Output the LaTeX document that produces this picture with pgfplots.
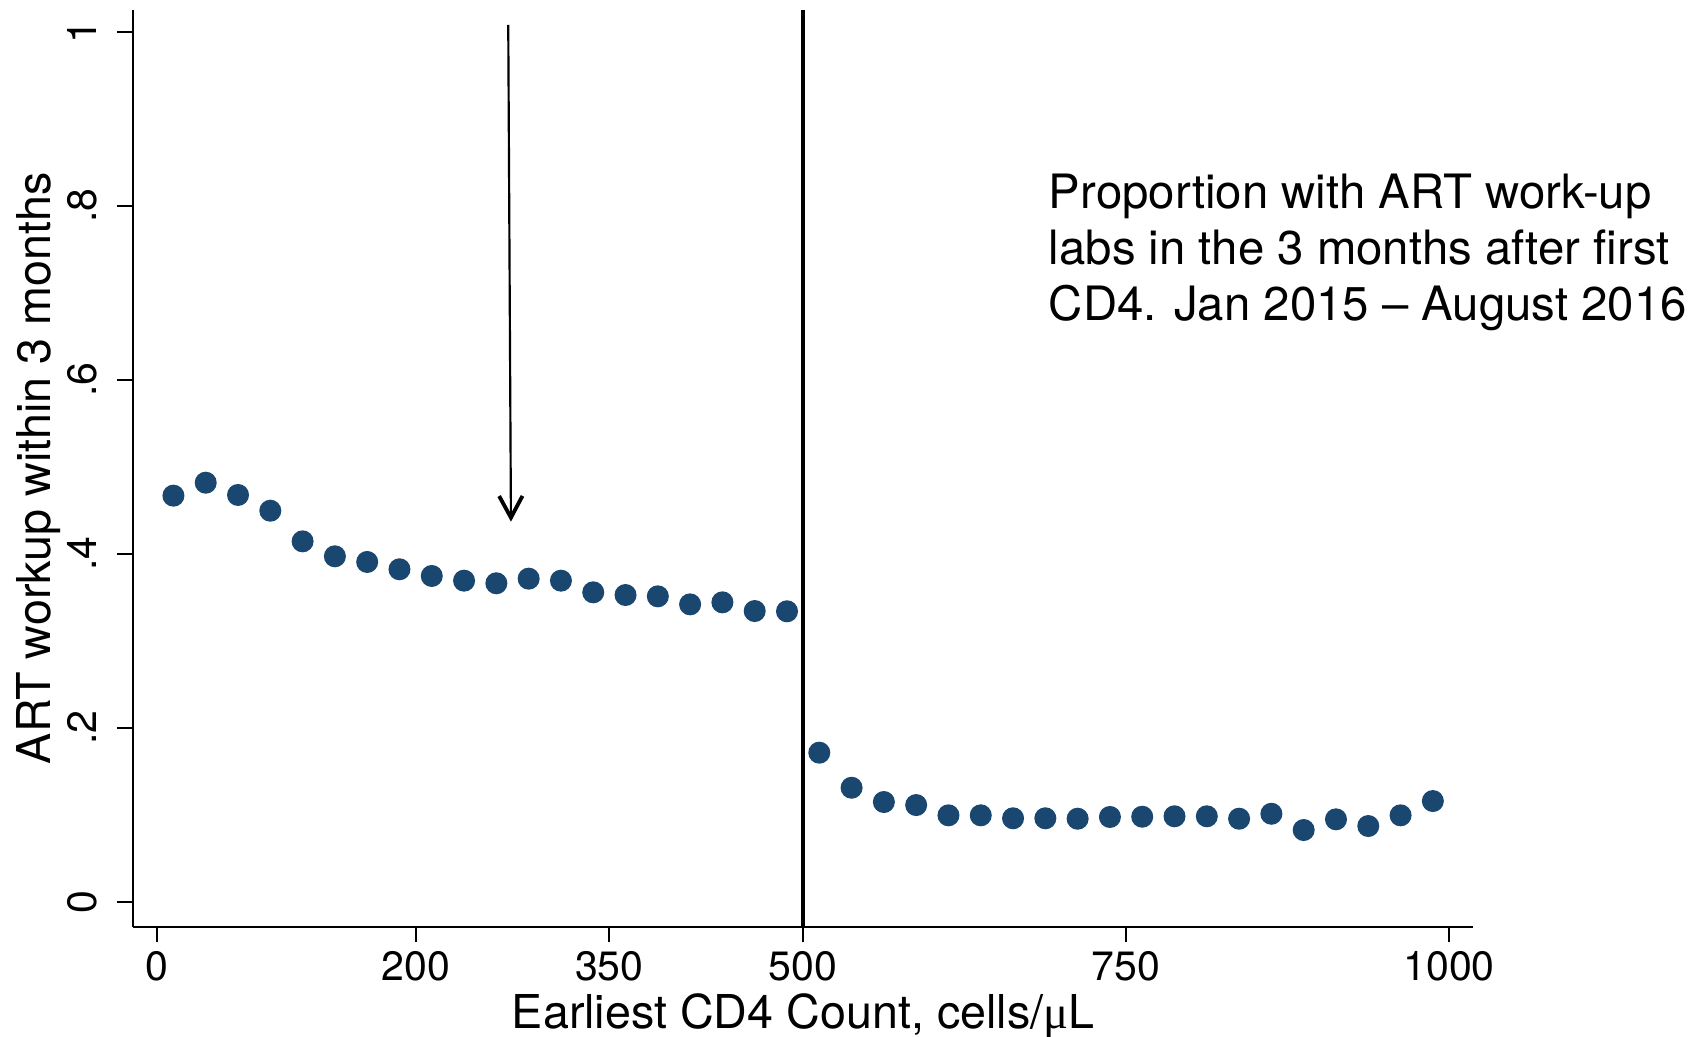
\documentclass[border=0pt]{standalone}
\usepackage{fontspec}
\setmainfont{TeX Gyre Heros}
\newfontfamily\serifmu{Liberation Serif}
\usepackage{pgfplots}
\pgfplotsset{compat=1.18}
\usetikzlibrary{arrows.meta}
\definecolor{statanavy}{RGB}{26,71,111}

\pgfplotstableread{
x y
12.5 0.4667
37.5 0.4816
62.5 0.4675
87.5 0.4494
112.5 0.4142
137.5 0.3970
162.5 0.3905
187.5 0.3821
212.5 0.3744
237.5 0.3690
262.5 0.3660
287.5 0.3713
312.5 0.3690
337.5 0.3556
362.5 0.3525
387.5 0.3510
412.5 0.3418
437.5 0.3441
462.5 0.3341
487.5 0.3338
512.5 0.1713
537.5 0.1310
562.5 0.1146
587.5 0.1111
612.5 0.0993
637.5 0.0993
662.5 0.0959
687.5 0.0959
712.5 0.0954
737.5 0.0974
762.5 0.0977
787.5 0.0982
812.5 0.0982
837.5 0.0954
862.5 0.1011
887.5 0.0824
912.5 0.0947
937.5 0.0870
962.5 0.0993
987.5 0.1157
}\datatable

\begin{document}
\begin{tikzpicture}
\begin{axis}[
  at={(0,0)}, anchor=south west,
  scale only axis,
  width=402.09pt, height=275.01pt,
  xmin=-18.8, xmax=1018.8,
  ymin=-0.0287, ymax=1.0249,
  axis x line=bottom, axis y line=left,
  axis line style={line width=0.6pt, -},
  xtick={0,200,350,500,750,1000},
  ytick={0,0.2,0.4,0.6,0.8,1},
  yticklabels={0,.2,.4,.6,.8,1},
  tick align=outside,
  major tick length=4.7pt,
  tick style={line width=0.6pt, black},
  /pgf/number format/assume math mode=true,
  /pgf/number format/1000 sep={},
  scaled ticks=false,
  xticklabel style={font=\fontsize{12.3}{14}\selectfont, anchor=base},
  yticklabel style={font=\fontsize{12.3}{14}\selectfont, rotate=90, anchor=base},
  xticklabel shift=11.3pt,
  yticklabel shift=6.2pt,
  xlabel={Earliest CD4 Count, cells/{\serifmu μ}L},
  ylabel={ART workup within 3 months},
  xlabel style={font=\fontsize{14}{16.8}\selectfont, at={(axis description cs:0.5,-0.1108)}, anchor=base},
  ylabel style={font=\fontsize{14}{16.8}\selectfont, at={(axis description cs:-0.0619,0.5)}, anchor=base},
  clip=false,
]
\addplot[black, line width=1.1pt] coordinates {(500,-0.0287) (500,1.0249)};
\addplot[only marks, mark=*, mark size=3.1pt, color=statanavy, mark options={fill=statanavy, draw=statanavy}] table[x=x, y=y] {\datatable};
\draw[line width=0.65pt, -{Straight Barb[length=6.5pt, width=7pt, line width=1.15pt]}] (axis cs:271.7,1.0077) -- (axis cs:273.8,0.4368);
\node[anchor=base west, inner sep=0, font=\fontsize{14.2}{17}\selectfont] at (axis cs:689.8,0.797) {Proportion with ART work-up};
\node[anchor=base west, inner sep=0, font=\fontsize{14.2}{17}\selectfont] at (axis cs:689.8,0.7326) {labs in the 3 months after first};
\node[anchor=base west, inner sep=0, font=\fontsize{14.2}{17}\selectfont] at (axis cs:689.8,0.6682) {CD4. Jan 2015 -- August 2016};
\end{axis}
\pgfresetboundingbox
\useasboundingbox (-39.9pt,-33.09pt) rectangle (472.5pt,278.01pt);
\end{tikzpicture}
\end{document}
